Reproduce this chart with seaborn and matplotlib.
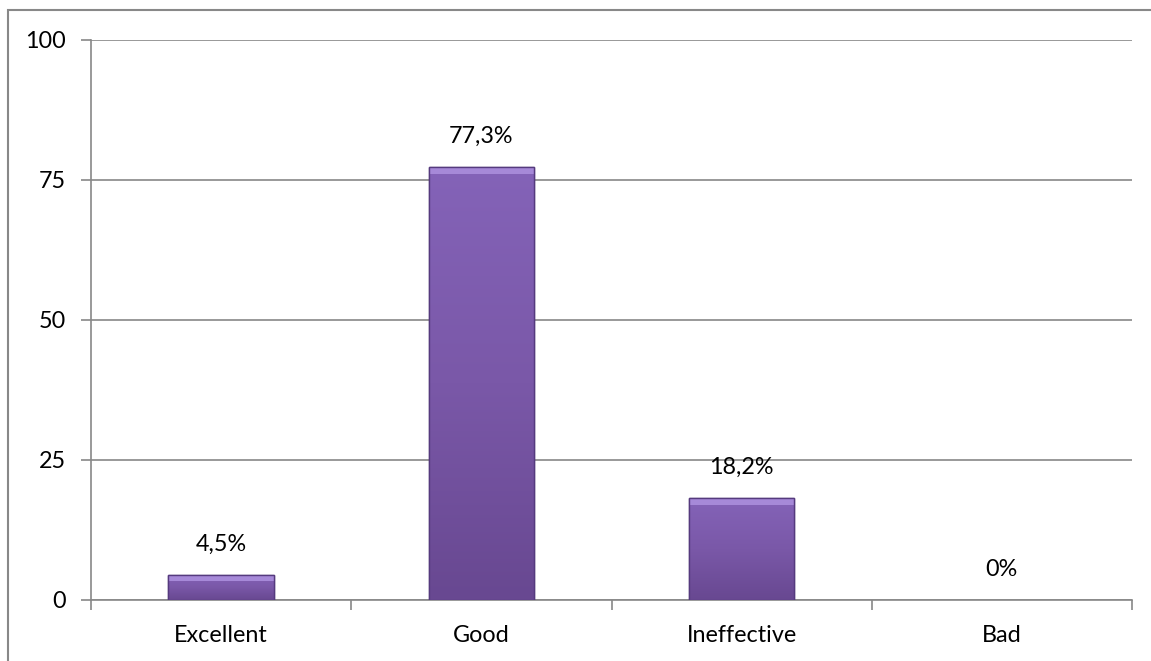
import matplotlib
matplotlib.use("Agg")
import matplotlib.pyplot as plt
import matplotlib.patches as mpatches
from matplotlib.colors import LinearSegmentedColormap
import numpy as np
import seaborn as sns
import pandas as pd

categories = ["Excellent", "Good", "Ineffective", "Bad"]
values = [4.5, 77.3, 18.2, 0.0]
value_labels = ["4,5%", "77,3%", "18,2%", "0%"]
y_ticks = [0, 25, 50, 75, 100]

sns.set_theme(style="white")
plt.rcParams['font.family'] = ['Lato', 'DejaVu Sans']

FS = 16.8
W, H = 1151, 661
fig = plt.figure(figsize=(W / 100, H / 100), dpi=100)
ax = fig.add_axes([91 / W, 1 - 600 / H, (1132 - 91) / W, (600 - 40) / H])

df = pd.DataFrame({"cat": categories, "val": values})
sns.barplot(data=df, x="cat", y="val", ax=ax, color="#7B59AB", width=0.405,
            edgecolor="#553A7E", linewidth=1.0, zorder=3)

ax.set_ylim(0, 100)
ax.set_xlim(-0.5, len(categories) - 0.5)
ax.set_yticks(y_ticks)
ax.set_yticklabels([str(t) for t in y_ticks], fontsize=FS, color="#000000")
ax.set_xlabel("")
ax.set_ylabel("")
ax.tick_params(axis="x", labelsize=FS, labelcolor="#000000", length=0, pad=18)
ax.tick_params(axis="y", length=7, width=1.2, color="#888888", direction="out", pad=11, left=True)

# category boundary ticks on x axis
ax.set_xticks([i - 0.5 for i in range(len(categories) + 1)], minor=True)
ax.tick_params(axis="x", which="minor", length=7, width=1.2, color="#888888", direction="out", bottom=True)

ax.yaxis.grid(True, color="#888888", linewidth=1.2, zorder=0)
ax.xaxis.grid(False)
for s in ["top", "right"]:
    ax.spines[s].set_visible(False)
for s in ["left", "bottom"]:
    ax.spines[s].set_color("#888888")
    ax.spines[s].set_linewidth(1.2)

# gradient fill + bevel highlight on bars
cmap = LinearSegmentedColormap.from_list("barg", ["#684891", "#7A58A8", "#8463B8"])
grad = np.linspace(0, 1, 256).reshape(-1, 1)
for p in list(ax.patches):
    h = p.get_height()
    if h <= 0:
        p.set_linewidth(0)
        continue
    x0 = p.get_x()
    w = p.get_width()
    im = ax.imshow(grad, cmap=cmap, origin="lower", aspect="auto",
                   extent=(x0, x0 + w, 0, h), zorder=3.5)
    im.set_clip_path(p)
    bev = min(1.3, h * 0.25)
    top = mpatches.Rectangle((x0, h - bev), w, bev,
                             facecolor="#A689D8", edgecolor="none", zorder=4)
    ax.add_patch(top)
    outline = mpatches.Rectangle((x0, 0), w, h, facecolor="none",
                                 edgecolor="#553A7E", linewidth=1.0, zorder=4.5)
    ax.add_patch(outline)
ax.set_xlim(-0.5, len(categories) - 0.5)
ax.set_ylim(0, 100)

for i, (v, lab) in enumerate(zip(values, value_labels)):
    ax.annotate(lab, (i, v), xytext=(0, 22), textcoords="offset points",
                ha="center", va="center", fontsize=FS, color="#000000")

# outer border
fig.patches.append(mpatches.Rectangle((8 / W, -0.01), 1.02, 1 - 10 / H + 0.01,
                                      transform=fig.transFigure, fill=False,
                                      edgecolor="#888888", linewidth=1.5))

fig.savefig("out.png", dpi=100)
